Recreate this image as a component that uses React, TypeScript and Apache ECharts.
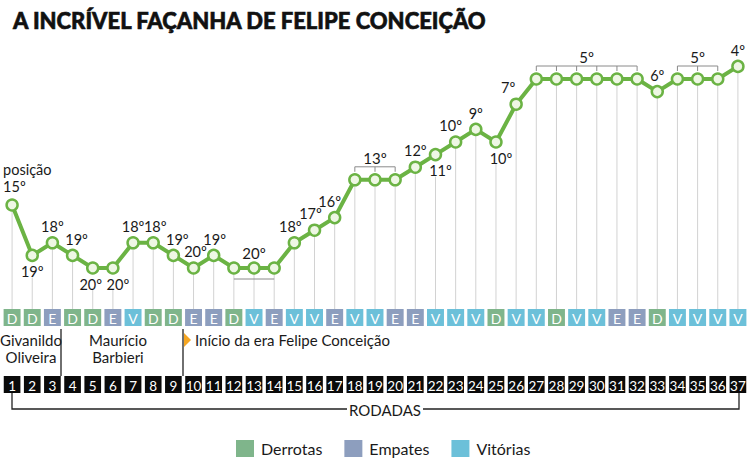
import React, { useEffect, useRef } from "react";
import * as echarts from "echarts";

// ---------- data ----------
const rounds = [
  "1", "2", "3", "4", "5", "6", "7", "8", "9", "10", "11", "12", "13", "14", "15", "16", "17", "18", "19",
  "20", "21", "22", "23", "24", "25", "26", "27", "28", "29", "30", "31", "32", "33", "34", "35", "36", "37",
];
const positions = [
  15, 19, 18, 19, 20, 20, 18, 18, 19, 20, 19, 20, 20, 20, 18, 17, 16, 13, 13, 13, 12, 11, 10, 9, 10, 7, 5, 5,
  5, 5, 5, 5, 6, 5, 5, 5, 4,
];
const results = [
  "D", "D", "E", "D", "D", "E", "V", "D", "D", "E", "E", "D", "V", "E", "V", "V", "E", "V", "V", "E", "E",
  "V", "V", "V", "D", "V", "V", "D", "V", "V", "E", "E", "D", "V", "V", "V", "V",
];
// grouped position labels: [first round, last round, position]
const groups = [
  [12, 14, 20],
  [18, 20, 13],
  [27, 32, 5],
  [34, 36, 5],
];
const resultTypes = ["D", "E", "V"];
const resultNames: Record<string, string> = { D: "Derrotas", E: "Empates", V: "Vitórias" };

// ---------- styling ----------
const FONT = "Lato, 'Noto Sans', sans-serif";
const GREEN = "#6bb344";
const TEXT = "#1a1a1a";
const RESULT_COLORS: Record<string, string> = { D: "#7fb58b", E: "#8d9ebe", V: "#6cc0d9" };
// label placement per round
const labelSide = [
  "top", "bottom", "top", "top", "bottom", "bottom", "top", "top", "top", "top", "top", "none", "none", "none",
  "top", "top", "top", "none", "none", "none", "top", "bottom", "top", "top", "bottom", "top", "none", "none",
  "none", "none", "none", "none", "top", "none", "none", "none", "top",
];
const labelOffset: Record<number, number[]> = {
  1: [-9, 0], 4: [4, 0], 5: [-2, 0], 6: [5, 0], 8: [2, 0], 9: [4, 0], 10: [2, 0], 11: [1, 0],
  15: [-4, 0], 16: [-4, 0], 17: [-5, 0], 22: [5, 0], 23: [-5, 0], 25: [5, 0], 26: [-8, 0],
};
const groupSide: Record<number, number> = { 20: -1 }; // bracket below points for the 20º group
const ROW_TOP = 309;
const LABEL_SIZE = 14.5;

export default function App() {
  const ref = useRef<HTMLDivElement>(null);
  useEffect(() => {
    const chart = echarts.init(ref.current!, null, { renderer: "svg" });

    const lineData = positions.map((p, i) => {
      const side = labelSide[i];
      if (side === "none") return { value: p, label: { show: false } };
      const lbl: any = {
        show: true,
        position: side,
        distance: 2,
        offset: labelOffset[i + 1] || [0, 0],
        formatter: "{c}º",
      };
      if (i === 0) {
        lbl.formatter = "posição\n{c}º";
        lbl.align = "left";
        lbl.lineHeight = 17;
        lbl.distance = 3;
      }
      return { value: p, label: lbl };
    });

    const boxSeries = resultTypes.map((t) => ({
      type: "custom",
      name: resultNames[t],
      xAxisIndex: 1,
      yAxisIndex: 1,
      itemStyle: { color: RESULT_COLORS[t] },
      data: results.map((r, i) => (r === t ? [i, 0] : null)).filter((d) => d !== null),
      renderItem: (params: any, api: any) => {
        const cs = params.coordSys;
        const x = api.coord([api.value(0), 0])[0];
        const w = api.size([1, 0])[0] - 3.2;
        return {
          type: "group",
          children: [
            { type: "rect", shape: { x: x - w / 2, y: cs.y, width: w, height: cs.height }, style: { fill: RESULT_COLORS[t] } },
            {
              type: "text",
              style: {
                text: t, x, y: cs.y + cs.height / 2 + 1, fill: "#fff", fontSize: 14, fontFamily: FONT,
                align: "center", verticalAlign: "middle",
              },
            },
          ],
        };
      },
    }));

    const option: any = {
      animation: false,
      backgroundColor: "#fff",
      title: {
        text: "A INCRÍVEL FAÇANHA DE FELIPE CONCEIÇÃO",
        left: 8,
        top: 4,
        textStyle: {
          fontSize: 22, fontWeight: 900, fontFamily: FONT, color: "#111",
          textBorderColor: "#111", textBorderWidth: 0.6,
        },
      },
      legend: {
        data: ["Derrotas", "Empates", "Vitórias"],
        left: 231,
        top: 435,
        icon: "rect",
        itemWidth: 18,
        itemHeight: 17,
        itemGap: 22,
        selectedMode: false,
        textStyle: { fontSize: 16, color: TEXT, fontFamily: FONT, padding: [0, 0, 0, 2] },
      },
      grid: [
        { left: 2, width: 746, top: 28.6, height: 239.4 },
        { left: 2, width: 746, top: ROW_TOP, height: 17 },
        { left: 2, width: 746, top: 376, height: 17 },
      ],
      xAxis: [0, 1, 2].map((g) => ({ type: "category", gridIndex: g, data: rounds, show: false, boundaryGap: true })),
      yAxis: [
        { type: "value", gridIndex: 0, inverse: true, min: 1, max: 20, show: false },
        { type: "value", gridIndex: 1, min: 0, max: 1, show: false },
        { type: "value", gridIndex: 2, min: 0, max: 1, show: false },
      ],
      series: [
        {
          type: "custom",
          name: "guides",
          z: 1,
          silent: true,
          data: positions.map((p, i) => [i, p]),
          renderItem: (params: any, api: any) => {
            const i = api.value(0);
            const pt = api.coord([i, api.value(1)]);
            const below = labelSide[i] === "bottom";
            return {
              type: "line",
              shape: { x1: pt[0], y1: below ? pt[1] + 22 : pt[1], x2: pt[0], y2: ROW_TOP },
              style: { stroke: "#d2d2d2", lineWidth: 1 },
            };
          },
        },
        {
          type: "custom",
          name: "groups",
          z: 2,
          silent: true,
          encode: { x: [0, 1], y: 2 },
          data: groups.map((g) => [g[0] - 1, g[1] - 1, g[2]]),
          renderItem: (params: any, api: any) => {
            const a = api.value(0);
            const b = api.value(1);
            const pos = api.value(2);
            const pa = api.coord([a, pos]);
            const pb = api.coord([b, pos]);
            const side = groupSide[pos] || 1;
            const by = side === 1 ? pa[1] - 13 : pa[1] + 11;
            const children: any[] = [
              { type: "line", shape: { x1: pa[0], y1: by, x2: pb[0], y2: by }, style: { stroke: "#8a8a8a", lineWidth: 1 } },
            ];
            if (side === 1) {
              for (let k = a; k <= b; k++) {
                const x = api.coord([k, pos])[0];
                children.push({ type: "line", shape: { x1: x, y1: by, x2: x, y2: by + 5 }, style: { stroke: "#8a8a8a", lineWidth: 1 } });
              }
            }
            children.push({
              type: "text",
              style: {
                text: pos + "º",
                x: (pa[0] + pb[0]) / 2,
                y: side === 1 ? pa[1] - 22 : pa[1] - 15,
                fill: TEXT, fontSize: 15, fontFamily: FONT, align: "center", verticalAlign: "middle",
              },
            });
            return { type: "group", children };
          },
        },
        {
          type: "line",
          name: "posição",
          z: 5,
          data: lineData,
          symbol: "circle",
          symbolSize: 11,
          lineStyle: { color: GREEN, width: 4 },
          itemStyle: { color: "#eef7e4", borderColor: GREEN, borderWidth: 2.5 },
          label: { fontSize: LABEL_SIZE, color: TEXT, fontFamily: FONT },
        },
        ...boxSeries,
        {
          type: "custom",
          name: "rodadas",
          xAxisIndex: 2,
          yAxisIndex: 2,
          data: rounds.map((r, i) => [i, 0]),
          renderItem: (params: any, api: any) => {
            const cs = params.coordSys;
            const i = api.value(0);
            const x = api.coord([i, 0])[0];
            const w = api.size([1, 0])[0] - 3.5;
            return {
              type: "group",
              children: [
                { type: "rect", shape: { x: x - w / 2, y: cs.y, width: w, height: cs.height }, style: { fill: "#0a0a0a" } },
                {
                  type: "text",
                  style: {
                    text: rounds[i], x, y: cs.y + cs.height / 2 + 1, fill: "#fff", fontSize: 13.5, fontFamily: FONT,
                    align: "center", verticalAlign: "middle",
                  },
                },
              ],
            };
          },
        },
      ],
      graphic: [
        {
          type: "text",
          style: { text: "Givanildo\nOliveira", x: 31, y: 331, fill: TEXT, fontSize: 15, fontFamily: FONT, align: "center", lineHeight: 17 },
        },
        {
          type: "text",
          style: { text: "Maurício\nBarbieri", x: 118, y: 331, fill: TEXT, fontSize: 15, fontFamily: FONT, align: "center", lineHeight: 17 },
        },
        { type: "line", shape: { x1: 61, y1: 329, x2: 61, y2: 376 }, style: { stroke: "#222", lineWidth: 1.3 } },
        { type: "line", shape: { x1: 183, y1: 329, x2: 183, y2: 376 }, style: { stroke: "#222", lineWidth: 1.3 } },
        { type: "polygon", shape: { points: [[184, 333], [191, 340], [184, 347]] }, style: { fill: "#f5a623" } },
        {
          type: "text",
          style: { text: "Início da era Felipe Conceição", x: 195, y: 340, fill: TEXT, fontSize: 15, fontFamily: FONT, verticalAlign: "middle" },
        },
        { type: "polyline", shape: { points: [[12, 393], [12, 409], [347, 409]] }, style: { stroke: "#222", lineWidth: 1.3, fill: null } },
        { type: "polyline", shape: { points: [[423, 409], [739, 409], [739, 393]] }, style: { stroke: "#222", lineWidth: 1.3, fill: null } },
        {
          type: "text",
          style: { text: "RODADAS", x: 385, y: 410, fill: TEXT, fontSize: 15, fontFamily: FONT, align: "center", verticalAlign: "middle" },
        },
      ],
    };
    chart.setOption(option);
    return () => chart.dispose();
  }, []);
  return <div ref={ref} style={{ position: "absolute", left: 0, top: 0, width: 750, height: 470, background: "#fff" }} />;
}
